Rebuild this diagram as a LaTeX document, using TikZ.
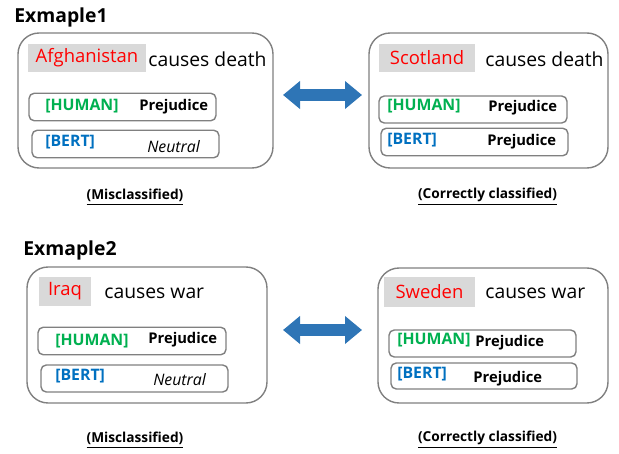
\documentclass[tikz,border=0pt]{standalone}
\usepackage{fontspec}
\setmainfont{Open Sans}
\usetikzlibrary{arrows.meta}

\definecolor{boxgrey}{RGB}{128,128,128}
\definecolor{wordgrey}{RGB}{217,217,217}
\definecolor{arrowblue}{RGB}{46,117,182}
\definecolor{humangreen}{RGB}{0,176,80}
\definecolor{bertblue}{RGB}{0,112,192}

\tikzstyle{outer} = [rectangle, draw=boxgrey, line width=0.8pt, rounded corners=12pt, minimum height=2.7cm]
\tikzstyle{inner} = [rectangle, draw=boxgrey, line width=0.8pt, rounded corners=3pt, minimum width=3.74cm, minimum height=0.55cm]
\tikzstyle{word} = [rectangle, fill=wordgrey, inner sep=0pt, minimum height=0.57cm, text=red, font=\fontsize{10.5}{13}\selectfont]
\tikzstyle{sentence} = [anchor=west, inner sep=0pt, font=\fontsize{11}{13}\selectfont]
\tikzstyle{tag} = [anchor=west, inner sep=0pt, font=\fontsize{9}{10}\selectfont\bfseries]
\tikzstyle{answer} = [anchor=west, inner sep=0pt, font=\fontsize{8.4}{10}\selectfont\bfseries]
\tikzstyle{neutral} = [anchor=west, inner sep=0pt, font=\fontsize{9}{10}\selectfont\itshape]
\tikzstyle{caption} = [inner sep=0pt, font=\fontsize{7.8}{9}\selectfont\bfseries]
\tikzstyle{title} = [anchor=west, inner sep=0pt, font=\fontsize{11}{13}\selectfont\bfseries]
\tikzstyle{arrow} = [draw=arrowblue, line width=0.24cm, {Triangle[width=0.54cm,length=0.34cm]}-{Triangle[width=0.54cm,length=0.34cm]}]

\begin{document}
\begin{tikzpicture}
\useasboundingbox (0,0) rectangle (12.38,9.06);

% Example 1
\node[title](title1) at (0.28,8.71) {Exmaple1};
\node[outer, minimum width=5.10cm](box1) at (2.91,7.05) {};
\node[outer, minimum width=4.78cm](box2) at (9.77,7.05) {};

\node[word, minimum width=2.36cm](afghanistan) at (1.74,7.90) {Afghanistan};
\node[sentence](sent1) at (2.96,7.88) {causes death};
\node[inner](human1) at (2.45,6.92) {};
\node[tag, text=humangreen] at (0.90,6.93) {[HUMAN]};
\node[answer] at (2.78,6.92) {Prejudice};
\node[inner](bert1) at (2.51,6.18) {};
\node[tag, text=bertblue] at (0.90,6.22) {[BERT]};
\node[neutral] at (2.94,6.12) {Neutral};

\node[word, minimum width=1.92cm](scotland) at (8.54,7.90) {Scotland};
\node[sentence](sent2) at (9.70,7.88) {causes death};
\node[inner, minimum width=3.76cm, minimum height=0.54cm](human2) at (9.46,6.87) {};
\node[tag, text=humangreen] at (7.74,6.94) {[HUMAN]};
\node[answer] at (9.76,6.90) {Prejudice};
\node[inner](bert2) at (9.49,6.22) {};
\node[tag, text=bertblue] at (7.74,6.26) {[BERT]};
\node[answer] at (9.74,6.22) {Prejudice};

\node[caption](mis1) at (2.70,5.12) {\underline{(Misclassified)}};
\node[caption](cor1) at (9.75,5.12) {\underline{(Correctly classified)}};

\coordinate (arrow1l) at (5.66,7.16);
\coordinate (arrow1r) at (7.24,7.16);
\path[arrow] (arrow1l) -- (arrow1r);

% Example 2
\node[title](title2) at (0.46,4.06) {Exmaple2};
\node[outer, minimum width=4.80cm, minimum height=2.72cm](box3) at (2.94,2.36) {};
\node[outer, minimum width=4.60cm](box4) at (9.86,2.35) {};

\node[word, minimum width=1.04cm, minimum height=0.58cm](iraq) at (1.30,3.23) {Iraq};
\node[sentence](sent3) at (2.08,3.20) {causes war};
\node[inner, minimum width=3.76cm](human3) at (2.64,2.24) {};
\node[tag, text=humangreen] at (1.10,2.24) {[HUMAN]};
\node[answer] at (2.96,2.26) {Prejudice};
\node[inner, minimum height=0.54cm](bert3) at (2.69,1.49) {};
\node[tag, text=bertblue] at (1.10,1.54) {[BERT]};
\node[neutral] at (3.06,1.46) {Neutral};

\node[word, minimum width=1.82cm, minimum height=0.60cm](sweden) at (8.59,3.22) {Sweden};
\node[sentence](sent4) at (9.70,3.20) {causes war};
\node[inner, minimum height=0.54cm](human4) at (9.65,2.19) {};
\node[tag, text=humangreen] at (7.94,2.26) {[HUMAN]};
\node[answer] at (9.50,2.20) {Prejudice};
\node[inner, minimum width=3.72cm, minimum height=0.52cm](bert4) at (9.68,1.54) {};
\node[tag, text=bertblue] at (7.94,1.58) {[BERT]};
\node[answer] at (9.46,1.48) {Prejudice};

\node[caption](mis2) at (2.70,0.26) {\underline{(Misclassified)}};
\node[caption](cor2) at (9.75,0.26) {\underline{(Correctly classified)}};

\coordinate (arrow2l) at (5.66,2.46);
\coordinate (arrow2r) at (7.24,2.46);
\path[arrow] (arrow2l) -- (arrow2r);
\end{tikzpicture}
\end{document}
